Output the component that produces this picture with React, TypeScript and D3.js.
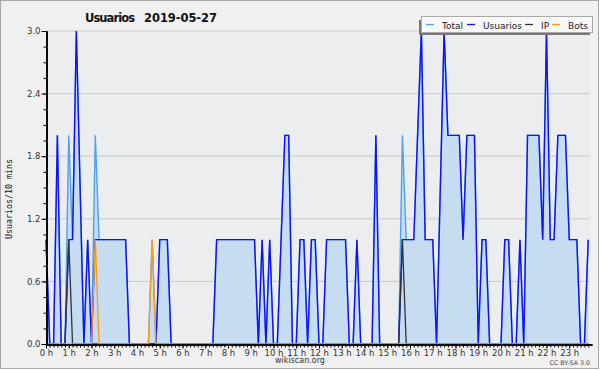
import { useEffect, useRef } from "react";
import { area, axisBottom, axisLeft, format, line, range, scaleLinear, select } from "d3";

// one value per 10 minutes, 144 points for the day
const usuarios = [
  1, 0, 0, 2, 0, 0, 1, 1, 3, 1.5, 0, 1,
  0, 1, 1, 1, 1, 1, 1, 1, 1, 1, 0, 0,
  0, 0, 0, 0, 0, 0, 1, 1, 1, 0, 0, 0,
  0, 0, 0, 0, 0, 0, 0, 0, 0, 1, 1, 1,
  1, 1, 1, 1, 1, 1, 1, 1, 0, 1, 0, 1,
  0, 0, 1, 2, 2, 0, 0, 1, 1, 0, 1, 1,
  0, 0, 1, 1, 1, 1, 1, 1, 0, 0, 1, 0,
  0, 0, 0, 2, 0, 0, 0, 0, 0, 0, 1, 1,
  1, 1, 2, 3, 1, 1, 1, 0, 1.5, 3, 2, 2,
  2, 2, 1, 2, 2, 2, 0, 1, 1, 0, 0, 0,
  0, 1, 1, 0, 0, 1, 0, 2, 2, 2, 2, 1,
  3, 1, 1, 2, 2, 2, 1, 1, 1, 0, 0, 1,
];

const total = [
  1, 0, 0, 2, 0, 0, 2, 1, 3, 1.5, 0, 1,
  0, 2, 1, 1, 1, 1, 1, 1, 1, 1, 0, 0,
  0, 0, 0, 0, 1, 0, 1, 1, 1, 0, 0, 0,
  0, 0, 0, 0, 0, 0, 0, 0, 0, 1, 1, 1,
  1, 1, 1, 1, 1, 1, 1, 1, 0, 1, 0, 1,
  0, 0, 1, 2, 2, 0, 0, 1, 1, 0, 1, 1,
  0, 0, 1, 1, 1, 1, 1, 1, 0, 0, 1, 0,
  0, 0, 0, 2, 0, 0, 0, 0, 0, 0, 2, 1,
  1, 1, 2, 3, 1, 1, 1, 0, 1.5, 3, 2, 2,
  2, 2, 1, 2, 2, 2, 0, 1, 1, 0, 0, 0,
  0, 1, 1, 0, 0, 1, 0, 2, 2, 2, 2, 1,
  3, 1, 1, 2, 2, 2, 1, 1, 1, 0, 0, 1,
];

const ip = [
  0, 0, 0, 0, 0, 0, 1, 0, 0, 0, 0, 0,
  0, 0, 0, 0, 0, 0, 0, 0, 0, 0, 0, 0,
  0, 0, 0, 0, 0, 0, 0, 0, 0, 0, 0, 0,
  0, 0, 0, 0, 0, 0, 0, 0, 0, 0, 0, 0,
  0, 0, 0, 0, 0, 0, 0, 0, 0, 0, 0, 0,
  0, 0, 0, 0, 0, 0, 0, 0, 0, 0, 0, 0,
  0, 0, 0, 0, 0, 0, 0, 0, 0, 0, 0, 0,
  0, 0, 0, 0, 0, 0, 0, 0, 0, 0, 1, 0,
  0, 0, 0, 0, 0, 0, 0, 0, 0, 0, 0, 0,
  0, 0, 0, 0, 0, 0, 0, 0, 0, 0, 0, 0,
  0, 0, 0, 0, 0, 0, 0, 0, 0, 0, 0, 0,
  0, 0, 0, 0, 0, 0, 0, 0, 0, 0, 0, 0,
];

const bots = [
  0, 0, 0, 0, 0, 0, 0, 0, 0, 0, 0, 0,
  0, 1, 0, 0, 0, 0, 0, 0, 0, 0, 0, 0,
  0, 0, 0, 0, 1, 0, 0, 0, 0, 0, 0, 0,
  0, 0, 0, 0, 0, 0, 0, 0, 0, 0, 0, 0,
  0, 0, 0, 0, 0, 0, 0, 0, 0, 0, 0, 0,
  0, 0, 0, 0, 0, 0, 0, 0, 0, 0, 0, 0,
  0, 0, 0, 0, 0, 0, 0, 0, 0, 0, 0, 0,
  0, 0, 0, 0, 0, 0, 0, 0, 0, 0, 0, 0,
  0, 0, 0, 0, 0, 0, 0, 0, 0, 0, 0, 0,
  0, 0, 0, 0, 0, 0, 0, 0, 0, 0, 0, 0,
  0, 0, 0, 0, 0, 0, 0, 0, 0, 0, 0, 0,
  0, 0, 0, 0, 0, 0, 0, 0, 0, 0, 0, 0,
];

const yTicks = [0, 0.6, 1.2, 1.8, 2.4, 3.0];
const hourLabels = [
  "0 h", "1 h", "2 h", "3 h", "4 h", "5 h", "6 h", "7 h", "8 h", "9 h", "10 h", "11 h",
  "12 h", "13 h", "14 h", "15 h", "16 h", "17 h", "18 h", "19 h", "20 h", "21 h", "22 h", "23 h",
];
const legendNames = ["Total", "Usuarios", "IP", "Bots"];
const legendColors = ["#4aa2f0", "#1010ff", "#333333", "#ff9a10"];
// x offsets of each legend sample line, inside the legend box
const legendX = [426, 467, 525, 552];

const W = 600;
const H = 370;
const left = 46;
const right = 592;
const top = 31;
const bottom = 344;
const font = "DejaVu Sans, sans-serif";

export default function App() {
  const xAxisRef = useRef<SVGGElement>(null);
  const yAxisRef = useRef<SVGGElement>(null);

  const x = scaleLinear().domain([0, 144]).range([left, right]);
  const y = scaleLinear().domain([0, 3]).range([bottom, top]);

  const fill = area<number>()
    .x((_, i) => x(i))
    .y0(bottom)
    .y1((d) => y(d));
  const path = line<number>()
    .x((_, i) => x(i))
    .y((d) => y(d));

  useEffect(() => {
    const gx = select(xAxisRef.current);
    gx.selectAll("*").remove();
    gx.append("g").call(
      axisBottom(x).tickValues(range(0, 144)).tickSize(3).tickSizeOuter(0).tickFormat(() => "")
    );
    gx.append("g").call(
      axisBottom(x)
        .tickValues(hourLabels.map((_, i) => i * 6))
        .tickSize(4)
        .tickSizeOuter(0)
        .tickPadding(1)
        .tickFormat((_, i) => hourLabels[i])
    );

    const gy = select(yAxisRef.current);
    gy.selectAll("*").remove();
    gy.append("g").call(
      axisLeft(y).tickValues(range(0, 21).map((i) => i * 0.15)).tickSize(3).tickSizeOuter(0).tickFormat(() => "")
    );
    gy.append("g").call(
      axisLeft(y).tickValues(yTicks).tickSize(5).tickSizeOuter(0).tickPadding(1).tickFormat(format(".1f"))
    );

    [gx, gy].forEach((g) => {
      g.selectAll("g").attr("font-family", font).attr("font-size", 8.5);
      g.selectAll(".domain").attr("stroke", "#000").attr("stroke-width", 1.6);
      g.selectAll(".tick line").attr("stroke", "#000");
      g.selectAll(".tick text").attr("fill", "#333");
    });
  }, []);

  return (
    <div style={{ position: "absolute", left: 0, top: 0 }}>
      <svg width={W} height={H}>
        <rect x={0.5} y={0.5} width={W - 2} height={H - 2} fill="#f0f0f0" stroke="#a8a8a8" />
        <rect x={left} y={top} width={590 - left} height={bottom - top} fill="#ecedef" />

        {yTicks.map((t) => (
          <line key={t} x1={left} x2={590} y1={y(t)} y2={y(t)} stroke="#c9c9cb" />
        ))}

        <path d={fill(total) ?? ""} fill="#c5dcf1" />
        <path d={path(total) ?? ""} fill="none" stroke={legendColors[0]} strokeWidth={1.4} />
        <path d={path(usuarios) ?? ""} fill="none" stroke={legendColors[1]} strokeWidth={1.4} />
        <path d={path(ip) ?? ""} fill="none" stroke={legendColors[2]} strokeWidth={1.3} />
        <path d={path(bots) ?? ""} fill="none" stroke={legendColors[3]} strokeWidth={1.3} />

        <g ref={xAxisRef} transform={`translate(0,${bottom + 0.5})`} />
        <g ref={yAxisRef} transform={`translate(${left + 0.5},0)`} />

        <text x={85} y={22} fontFamily={font} fontWeight="bold" fontSize={11.5} fill="#111" textLength={50}>
          Usuarios
        </text>
        <text x={144} y={22} fontFamily={font} fontWeight="bold" fontSize={11.5} fill="#111" textLength={73}>
          2019-05-27
        </text>

        <text
          transform="translate(12,199) rotate(-90)"
          textAnchor="middle"
          fontFamily="DejaVu Sans Mono, monospace"
          fontSize={8.3}
          fill="#111"
        >
          Usuarios/10 mins
        </text>

        <text x={300} y={363} textAnchor="middle" fontFamily={font} fontSize={8} fill="#333">
          wikiscan.org
        </text>
        <text x={590} y={365} textAnchor="end" fontFamily={font} fontSize={6.3} fill="#444">
          CC BY-SA 3.0
        </text>

        <rect x={419} y={20} width={171} height={15} fill="#777" />
        <rect x={421.5} y={16.5} width={171} height={16} fill="#f8f8f8" stroke="#aaa" />
        {legendNames.map((name, i) => (
          <g key={name}>
            <line x1={legendX[i]} x2={legendX[i] + 8} y1={24.5} y2={24.5} stroke={legendColors[i]} strokeWidth={1.3} />
            <text x={legendX[i] + 16} y={28.5} fontFamily={font} fontSize={9} fill="#222">
              {name}
            </text>
          </g>
        ))}
      </svg>
    </div>
  );
}
